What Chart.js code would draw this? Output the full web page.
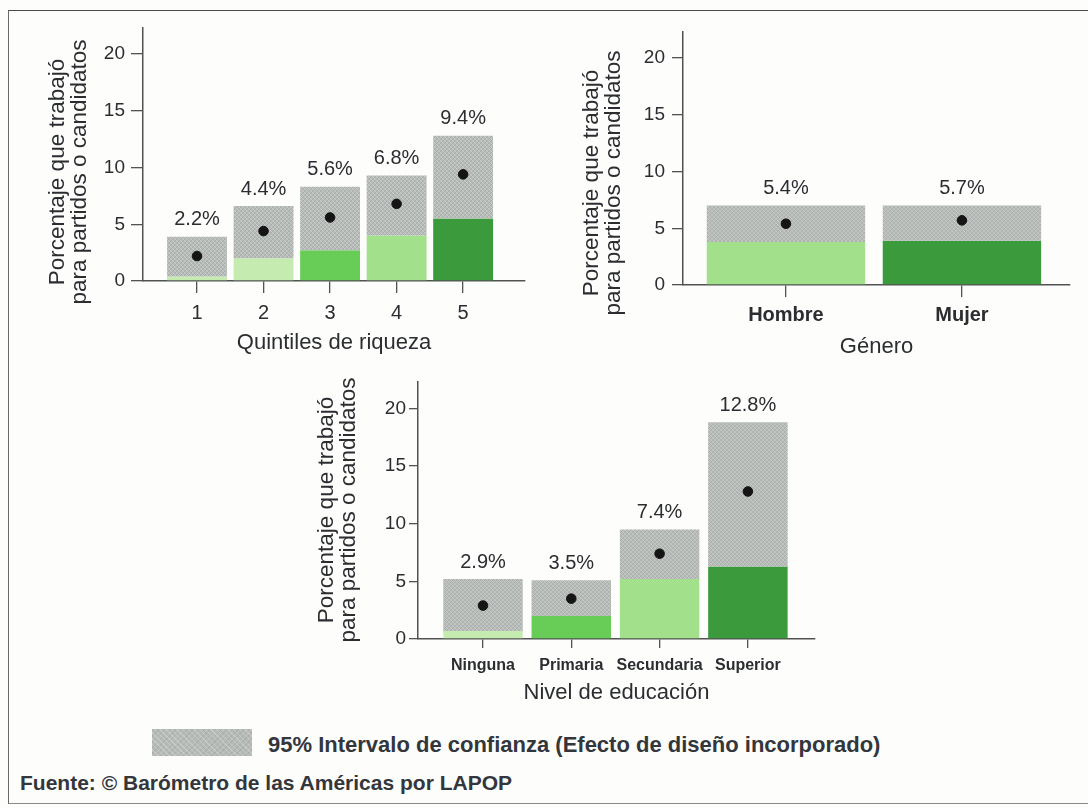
<!DOCTYPE html>
<html lang="es">
<head>
<meta charset="utf-8">
<title>Porcentaje que trabajó para partidos o candidatos</title>
<script src="https://cdn.jsdelivr.net/npm/chart.js@4/dist/chart.umd.min.js"></script>
<style>
  body { margin: 0; width: 1088px; height: 808px; overflow: hidden; background: #fdfdfc; font-family: "Liberation Sans", Arial, sans-serif; color: #2b2d30; }
  .marco { position: absolute; left: 8px; top: 10px; width: 1085px; height: 792px; border-top: 1.5px solid #4a4a4a; border-left: 1.5px solid #6a6a6a; border-bottom: 1.5px solid #8a8a8a; }
  canvas { position: absolute; }
  #graficoQuintiles { left: 0; top: 0; }
  #graficoGenero { left: 545px; top: 0; }
  #graficoEducacion { left: 300px; top: 365px; }
  .muestra { position: absolute; left: 152px; top: 729px; width: 100px; height: 27px; background-color: #b6bbb8;
    background-image: repeating-linear-gradient(45deg, rgba(255,255,255,0.22) 0 1px, transparent 1px 4px),
                      repeating-linear-gradient(-45deg, rgba(90,95,92,0.12) 0 1px, transparent 1px 4px); }
  .leyenda { position: absolute; left: 268px; top: 731px; font-size: 22px; line-height: 27px; font-weight: bold; color: #33363b; }
  .fuente { position: absolute; left: 20px; top: 769px; font-size: 21px; line-height: 27px; font-weight: bold; color: #33363b; }
</style>
</head>
<body>
<div class="marco"></div>
<canvas id="graficoQuintiles" width="545" height="365"></canvas>
<canvas id="graficoGenero" width="543" height="370"></canvas>
<canvas id="graficoEducacion" width="530" height="350"></canvas>
<div class="muestra"></div>
<div class="leyenda">95% Intervalo de confianza (Efecto de diseño incorporado)</div>
<div class="fuente">Fuente: © Barómetro de las Américas por LAPOP</div>

<script>
// Datos: estimación, límite inferior y superior del intervalo (95%)
var quintiles = ['1', '2', '3', '4', '5'];
var quintilEstim = [2.2, 4.4, 5.6, 6.8, 9.4];
var quintilInf = [0.4, 2.0, 2.7, 4.0, 5.5];
var quintilSup = [3.9, 6.6, 8.3, 9.3, 12.8];

var generos = ['Hombre', 'Mujer'];
var generoEstim = [5.4, 5.7];
var generoInf = [3.8, 3.9];
var generoSup = [7.0, 7.0];

var educacion = ['Ninguna', 'Primaria', 'Secundaria', 'Superior'];
var educEstim = [2.9, 3.5, 7.4, 12.8];
var educInf = [0.7, 2.0, 5.2, 6.3];
var educSup = [5.2, 5.1, 9.5, 18.8];

var yTicks = [0, 5, 10, 15, 20];
var tituloY = ['Porcentaje que trabajó', 'para partidos o candidatos'];

var FUENTE = '"Liberation Sans", Arial, sans-serif';
var TEXTO = '#2b2d30';
var EJE = '#505352';

var verdePalido = '#c6ebb1';
var verdeVivo = '#68cd56';
var verdeClaro = '#a3e08c';
var verdeOscuro = '#3a9a3c';

function crearTrama() {
    var c = document.createElement('canvas');
    c.width = 4;
    c.height = 4;
    var g = c.getContext('2d');
    g.fillStyle = '#b6bbb8';
    g.fillRect(0, 0, 4, 4);
    for (var i = 0; i < 4; i++) {
        g.fillStyle = '#c8ccca';
        g.fillRect(i, i, 1, 1);
        g.fillStyle = '#a9aeab';
        g.fillRect(3 - i, i, 1, 1);
    }
    return g.createPattern(c, 'repeat');
}
var trama = crearTrama();

// Etiquetas de porcentaje sobre cada intervalo
var etiquetasPlugin = {
    id: 'etiquetas',
    afterDatasetsDraw: function (chart, args, opts) {
        var meta = chart.getDatasetMeta(1);
        var ctx = chart.ctx;
        ctx.save();
        ctx.font = '20px ' + FUENTE;
        ctx.fillStyle = TEXTO;
        ctx.textAlign = 'center';
        ctx.textBaseline = 'middle';
        meta.data.forEach(function (barra, i) {
            ctx.fillText(opts.valores[i].toFixed(1) + '%', barra.x, Math.min(barra.y, barra.base) - 17);
        });
        ctx.restore();
    }
};

// Título vertical en dos líneas
var tituloYPlugin = {
    id: 'tituloY',
    afterDraw: function (chart, args, opts) {
        var ctx = chart.ctx;
        ctx.save();
        ctx.font = '22.5px ' + FUENTE;
        ctx.fillStyle = TEXTO;
        ctx.textAlign = 'center';
        ctx.textBaseline = 'middle';
        tituloY.forEach(function (linea, i) {
            ctx.save();
            ctx.translate(opts.x + i * 22, opts.y);
            ctx.rotate(-Math.PI / 2);
            ctx.fillText(linea, 0, 0);
            ctx.restore();
        });
        ctx.restore();
    }
};

function crearGrafico(id, cfg) {
    var ctx = document.getElementById(id).getContext('2d');
    var pos = function (v, i) { return { x: i + 1, y: v }; };

    return new Chart(ctx, {
        type: 'bar',
        data: {
            datasets: [{
                label: 'Límite inferior',
                data: cfg.inf.map(pos),
                backgroundColor: cfg.colores,
                grouped: false,
                categoryPercentage: 0.9,
                barPercentage: 1.0,
                order: 2
            }, {
                label: '95% Intervalo de confianza',
                data: cfg.inf.map(function (v, i) { return { x: i + 1, y: [v, cfg.sup[i]] }; }),
                backgroundColor: trama,
                grouped: false,
                categoryPercentage: 0.9,
                barPercentage: 1.0,
                order: 1
            }, {
                type: 'scatter',
                label: 'Estimación',
                data: cfg.estim.map(pos),
                backgroundColor: '#151515',
                borderColor: '#151515',
                pointRadius: 4.8,
                order: 0
            }]
        },
        options: {
            responsive: false,
            animation: false,
            layout: { padding: { left: 0, right: cfg.derecha, top: cfg.arriba, bottom: 0 } },
            scales: {
                x: {
                    type: 'linear',
                    offset: false,
                    min: cfg.xMin,
                    max: cfg.xMax,
                    afterBuildTicks: function (s) {
                        s.ticks = cfg.categorias.map(function (c, i) { return { value: i + 1 }; });
                    },
                    afterFit: function (s) { s.height = cfg.altoX; },
                    ticks: {
                        autoSkip: false,
                        maxRotation: 0,
                        padding: cfg.xPad,
                        color: TEXTO,
                        font: cfg.fuenteX,
                        callback: function (v) { return cfg.categorias[v - 1]; }
                    },
                    grid: { drawOnChartArea: false, offset: false, tickLength: cfg.tickX, color: EJE, lineWidth: 1.3 },
                    border: { color: EJE, width: 1.5 },
                    title: {
                        display: true,
                        text: cfg.tituloX,
                        color: TEXTO,
                        font: { family: FUENTE, size: 22 },
                        padding: { top: 0, bottom: cfg.tituloPad }
                    }
                },
                y: {
                    min: 0,
                    max: 22.3,
                    afterBuildTicks: function (s) {
                        s.ticks = yTicks.map(function (v) { return { value: v }; });
                    },
                    afterFit: function (s) { s.width = cfg.anchoY; },
                    ticks: { padding: cfg.yPad, color: TEXTO, font: { family: FUENTE, size: 19 } },
                    grid: { drawOnChartArea: false, tickLength: cfg.tickY, color: EJE, lineWidth: 1.3 },
                    border: { color: EJE, width: 1.5 }
                }
            },
            plugins: {
                legend: { display: false },
                tooltip: { enabled: false },
                etiquetas: { valores: cfg.estim },
                tituloY: { x: cfg.tituloYx, y: cfg.tituloYy }
            }
        },
        plugins: [etiquetasPlugin, tituloYPlugin]
    });
}

document.addEventListener('DOMContentLoaded', function () {

    // Quintiles de riqueza
    crearGrafico('graficoQuintiles', {
        categorias: quintiles, estim: quintilEstim, inf: quintilInf, sup: quintilSup,
        colores: [verdePalido, verdePalido, verdeVivo, verdeClaro, verdeOscuro],
        tituloX: 'Quintiles de riqueza',
        xMin: 0.188, xMax: 5.93,
        anchoY: 143, altoX: 84, derecha: 20, arriba: 28,
        tickX: 12, tickY: 12, xPad: 8, yPad: 6, tituloPad: 9,
        fuenteX: { family: FUENTE, size: 20 },
        tituloYx: 58, tituloYy: 172
    });

    // Género
    crearGrafico('graficoGenero', {
        categorias: generos, estim: generoEstim, inf: generoInf, sup: generoSup,
        colores: [verdeClaro, verdeOscuro],
        tituloX: 'Género',
        xMin: 0.415, xMax: 2.614,
        anchoY: 138, altoX: 85, derecha: 18, arriba: 32,
        tickX: 12, tickY: 11, xPad: 6, yPad: 7, tituloPad: 10,
        fuenteX: { family: FUENTE, size: 20, weight: 'bold' },
        tituloYx: 47, tituloYy: 183
    });

    // Nivel de educación
    crearGrafico('graficoEducacion', {
        categorias: educacion, estim: educEstim, inf: educInf, sup: educSup,
        colores: [verdePalido, verdeVivo, verdeClaro, verdeOscuro],
        tituloX: 'Nivel de educación',
        xMin: 0.264, xMax: 4.76,
        anchoY: 118, altoX: 76, derecha: 15, arriba: 17,
        tickX: 9, tickY: 9, xPad: 8, yPad: 3, tituloPad: 9,
        fuenteX: { family: FUENTE, size: 16, weight: 'bold' },
        tituloYx: 27, tituloYy: 145
    });
});
</script>
</body>
</html>
